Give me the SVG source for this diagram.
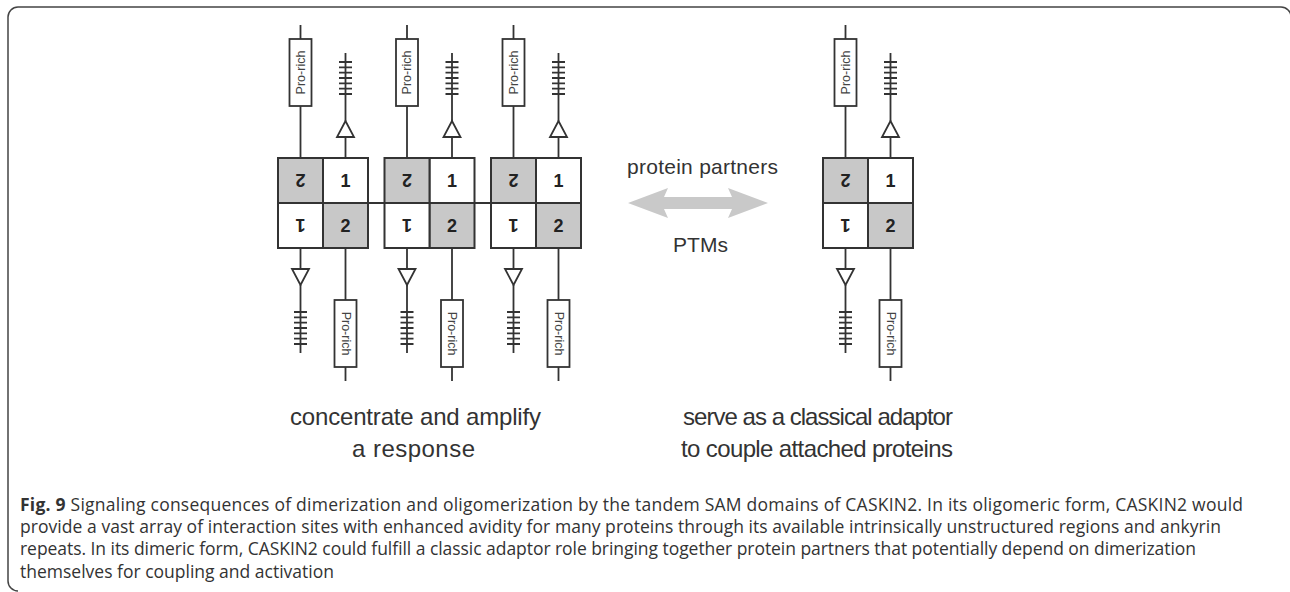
<svg xmlns="http://www.w3.org/2000/svg" width="1290" height="592" viewBox="0 0 1290 592">
<style>
.sq{stroke:#333;stroke-width:2}
.w{fill:#fff}
.g{fill:#c8c8c8}
.ln{fill:none;stroke:#333;stroke-width:1.8}
.tri{fill:#fff;stroke:#333;stroke-width:1.8;stroke-linejoin:miter}
.pr{fill:#fff;stroke:#333;stroke-width:1.8}
.num{font-family:"Liberation Sans",Arial,sans-serif;font-weight:bold;font-size:18px;fill:#222;text-anchor:middle}
.prt{font-family:"Liberation Sans",Arial,sans-serif;font-size:12.5px;fill:#444;text-anchor:middle;dominant-baseline:central}
.lbl{font-family:"Liberation Sans",Arial,sans-serif;fill:#333;text-anchor:middle}
.cap{font-family:"Open Sans","Liberation Sans",sans-serif;font-size:17.5px;fill:#333}
</style>
<path d="M18,591 A10,10 0 0 1 8,581 V17 A10,10 0 0 1 18,7 H1281 A10,10 0 0 1 1291,17" fill="none" stroke="#444" stroke-width="1.5"/>
<g id="connectors">
<path class="ln" d="M368 203H384.5M474.5 203H491"/>
<polygon points="628,203 668,188 664,197 732,197 728,188 768,203 728,218 732,209 664,209 668,218" fill="#c9c9c9"/>
</g>
<g id="oligomer1" transform="translate(323,203)">
<g id="o1a">
<rect class="sq w" x="0" y="-45" width="45" height="45"/><rect class="sq g" x="0" y="0" width="45" height="45"/>
<text class="num" x="22.5" y="-16">1</text><text class="num" x="22.5" y="29">2</text>
<path class="ln" d="M22.5 -45V-66M22.5 -82V-150M16 -141h13M16 -135.7h13M16 -130.3h13M16 -125h13M16 -119.7h13M16 -114.3h13M16 -109h13M22.5 45V97M22.5 164V178"/>
<polygon class="tri" points="22.5,-82 14,-66 31,-66"/>
<rect class="pr" x="11.5" y="97" width="22" height="67"/>
<text class="prt" transform="translate(22.5,130.5) rotate(90)">Pro-rich</text>
</g>
<g id="o1b" transform="rotate(180)">
<rect class="sq w" x="0" y="-45" width="45" height="45"/><rect class="sq g" x="0" y="0" width="45" height="45"/>
<text class="num" x="22.5" y="-16">1</text><text class="num" x="22.5" y="29">2</text>
<path class="ln" d="M22.5 -45V-66M22.5 -82V-150M16 -141h13M16 -135.7h13M16 -130.3h13M16 -125h13M16 -119.7h13M16 -114.3h13M16 -109h13M22.5 45V97M22.5 164V178"/>
<polygon class="tri" points="22.5,-82 14,-66 31,-66"/>
<rect class="pr" x="11.5" y="97" width="22" height="67"/>
<text class="prt" transform="translate(22.5,130.5) rotate(90)">Pro-rich</text>
</g>
</g>
<g id="oligomer2" transform="translate(429.5,203)">
<g id="o2a">
<rect class="sq w" x="0" y="-45" width="45" height="45"/><rect class="sq g" x="0" y="0" width="45" height="45"/>
<text class="num" x="22.5" y="-16">1</text><text class="num" x="22.5" y="29">2</text>
<path class="ln" d="M22.5 -45V-66M22.5 -82V-150M16 -141h13M16 -135.7h13M16 -130.3h13M16 -125h13M16 -119.7h13M16 -114.3h13M16 -109h13M22.5 45V97M22.5 164V178"/>
<polygon class="tri" points="22.5,-82 14,-66 31,-66"/>
<rect class="pr" x="11.5" y="97" width="22" height="67"/>
<text class="prt" transform="translate(22.5,130.5) rotate(90)">Pro-rich</text>
</g>
<g id="o2b" transform="rotate(180)">
<rect class="sq w" x="0" y="-45" width="45" height="45"/><rect class="sq g" x="0" y="0" width="45" height="45"/>
<text class="num" x="22.5" y="-16">1</text><text class="num" x="22.5" y="29">2</text>
<path class="ln" d="M22.5 -45V-66M22.5 -82V-150M16 -141h13M16 -135.7h13M16 -130.3h13M16 -125h13M16 -119.7h13M16 -114.3h13M16 -109h13M22.5 45V97M22.5 164V178"/>
<polygon class="tri" points="22.5,-82 14,-66 31,-66"/>
<rect class="pr" x="11.5" y="97" width="22" height="67"/>
<text class="prt" transform="translate(22.5,130.5) rotate(90)">Pro-rich</text>
</g>
</g>
<g id="oligomer3" transform="translate(536,203)">
<g id="o3a">
<rect class="sq w" x="0" y="-45" width="45" height="45"/><rect class="sq g" x="0" y="0" width="45" height="45"/>
<text class="num" x="22.5" y="-16">1</text><text class="num" x="22.5" y="29">2</text>
<path class="ln" d="M22.5 -45V-66M22.5 -82V-150M16 -141h13M16 -135.7h13M16 -130.3h13M16 -125h13M16 -119.7h13M16 -114.3h13M16 -109h13M22.5 45V97M22.5 164V178"/>
<polygon class="tri" points="22.5,-82 14,-66 31,-66"/>
<rect class="pr" x="11.5" y="97" width="22" height="67"/>
<text class="prt" transform="translate(22.5,130.5) rotate(90)">Pro-rich</text>
</g>
<g id="o3b" transform="rotate(180)">
<rect class="sq w" x="0" y="-45" width="45" height="45"/><rect class="sq g" x="0" y="0" width="45" height="45"/>
<text class="num" x="22.5" y="-16">1</text><text class="num" x="22.5" y="29">2</text>
<path class="ln" d="M22.5 -45V-66M22.5 -82V-150M16 -141h13M16 -135.7h13M16 -130.3h13M16 -125h13M16 -119.7h13M16 -114.3h13M16 -109h13M22.5 45V97M22.5 164V178"/>
<polygon class="tri" points="22.5,-82 14,-66 31,-66"/>
<rect class="pr" x="11.5" y="97" width="22" height="67"/>
<text class="prt" transform="translate(22.5,130.5) rotate(90)">Pro-rich</text>
</g>
</g>
<g id="dimer" transform="translate(868,203)">
<g id="d1">
<rect class="sq w" x="0" y="-45" width="45" height="45"/><rect class="sq g" x="0" y="0" width="45" height="45"/>
<text class="num" x="22.5" y="-16">1</text><text class="num" x="22.5" y="29">2</text>
<path class="ln" d="M22.5 -45V-66M22.5 -82V-150M16 -141h13M16 -135.7h13M16 -130.3h13M16 -125h13M16 -119.7h13M16 -114.3h13M16 -109h13M22.5 45V97M22.5 164V178"/>
<polygon class="tri" points="22.5,-82 14,-66 31,-66"/>
<rect class="pr" x="11.5" y="97" width="22" height="67"/>
<text class="prt" transform="translate(22.5,130.5) rotate(90)">Pro-rich</text>
</g>
<g id="d2" transform="rotate(180)">
<rect class="sq w" x="0" y="-45" width="45" height="45"/><rect class="sq g" x="0" y="0" width="45" height="45"/>
<text class="num" x="22.5" y="-16">1</text><text class="num" x="22.5" y="29">2</text>
<path class="ln" d="M22.5 -45V-66M22.5 -82V-150M16 -141h13M16 -135.7h13M16 -130.3h13M16 -125h13M16 -119.7h13M16 -114.3h13M16 -109h13M22.5 45V97M22.5 164V178"/>
<polygon class="tri" points="22.5,-82 14,-66 31,-66"/>
<rect class="pr" x="11.5" y="97" width="22" height="67"/>
<text class="prt" transform="translate(22.5,130.5) rotate(90)">Pro-rich</text>
</g>
</g>
<g id="labels">
<text class="lbl" x="702.5" y="174" font-size="21" textLength="151">protein partners</text>
<text class="lbl" x="700.5" y="252" font-size="21" textLength="55">PTMs</text>
<text class="lbl" x="415.5" y="425" font-size="24" textLength="251">concentrate and amplify</text>
<text class="lbl" x="413.5" y="457" font-size="24" textLength="123">a response</text>
<text class="lbl" x="818" y="425" font-size="24" textLength="270">serve as a classical adaptor</text>
<text class="lbl" x="817" y="457" font-size="24" textLength="272">to couple attached proteins</text>
</g>
<g id="caption">
<text class="cap" x="20" y="511" textLength="1223"><tspan font-weight="bold">Fig. 9</tspan> Signaling consequences of dimerization and oligomerization by the tandem SAM domains of CASKIN2. In its oligomeric form, CASKIN2 would</text>
<text class="cap" x="20" y="533" textLength="1201">provide a vast array of interaction sites with enhanced avidity for many proteins through its available intrinsically unstructured regions and ankyrin</text>
<text class="cap" x="20" y="555" textLength="1176">repeats. In its dimeric form, CASKIN2 could fulfill a classic adaptor role bringing together protein partners that potentially depend on dimerization</text>
<text class="cap" x="20" y="578">themselves for coupling and activation</text>
</g>
</svg>
